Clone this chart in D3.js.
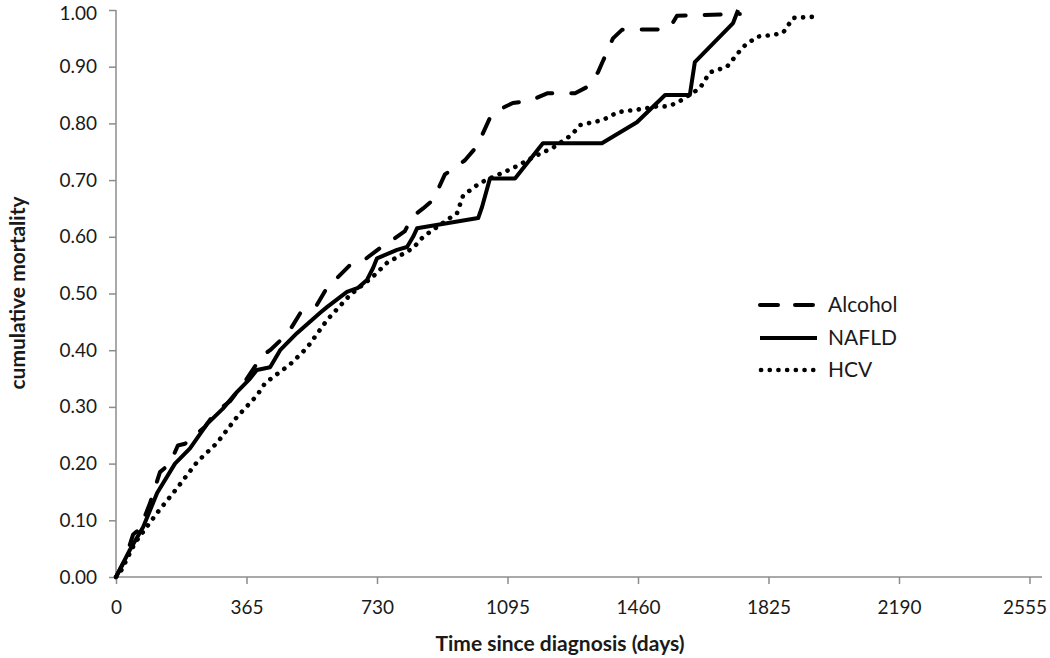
<!DOCTYPE html>
<html>
<head>
<meta charset="utf-8">
<script src="https://cdn.jsdelivr.net/npm/d3@7"></script>
<style>
  html, body { margin: 0; padding: 0; background: #fff; }
  svg text { font-family: Lato, "Open Sans", sans-serif; fill: #1a1a1a; }
</style>
</head>
<body>
<svg id="chart" width="1050" height="658"></svg>
<script>
// ---- data (days, cumulative mortality) ----
const xTicks = [0, 365, 730, 1095, 1460, 1825, 2190, 2555];
const yTicks = [0, 0.1, 0.2, 0.3, 0.4, 0.5, 0.6, 0.7, 0.8, 0.9, 1.0];
const seriesNames = ["Alcohol", "NAFLD", "HCV"];

const alcoholDays = [0, 25, 48, 67, 95, 123, 151, 173, 193, 249, 277, 319, 361, 408, 431, 481, 515, 562, 590, 618, 654, 696, 738, 772, 808, 828, 859, 887, 920, 976, 1010, 1046, 1074, 1110, 1158, 1206, 1284, 1320, 1348, 1362, 1390, 1415, 1541, 1555, 1569, 1745];
const alcoholVals = [0, 0.03, 0.075, 0.085, 0.13, 0.185, 0.20, 0.232, 0.235, 0.265, 0.29, 0.31, 0.345, 0.39, 0.40, 0.43, 0.465, 0.48, 0.51, 0.527, 0.55, 0.56, 0.58, 0.594, 0.61, 0.635, 0.65, 0.665, 0.71, 0.735, 0.76, 0.81, 0.825, 0.836, 0.84, 0.853, 0.853, 0.865, 0.89, 0.91, 0.95, 0.965, 0.966, 0.975, 0.99, 0.993];

const nafldDays = [0, 39, 76, 115, 165, 207, 255, 299, 338, 375, 394, 431, 459, 506, 571, 590, 646, 677, 702, 719, 730, 786, 814, 831, 842, 1013, 1024, 1046, 1116, 1194, 1359, 1457, 1536, 1605, 1619, 1726, 1740];
const nafldVals = [0, 0.048, 0.088, 0.148, 0.20, 0.227, 0.27, 0.297, 0.326, 0.35, 0.365, 0.37, 0.40, 0.43, 0.466, 0.476, 0.503, 0.51, 0.524, 0.545, 0.562, 0.577, 0.582, 0.60, 0.615, 0.633, 0.653, 0.703, 0.703, 0.765, 0.765, 0.802, 0.85, 0.85, 0.908, 0.977, 1.0];

const hcvDays = [0, 11, 53, 115, 171, 227, 282, 338, 394, 417, 487, 534, 590, 654, 719, 758, 831, 859, 954, 971, 1018, 1110, 1178, 1222, 1275, 1298, 1362, 1404, 1466, 1513, 1541, 1569, 1633, 1661, 1709, 1754, 1793, 1838, 1866, 1894, 1950, 1955];
const hcvVals = [0, 0.007, 0.06, 0.113, 0.157, 0.203, 0.236, 0.282, 0.32, 0.342, 0.375, 0.404, 0.453, 0.497, 0.53, 0.554, 0.58, 0.60, 0.642, 0.673, 0.695, 0.721, 0.744, 0.757, 0.78, 0.797, 0.806, 0.82, 0.825, 0.83, 0.83, 0.836, 0.862, 0.89, 0.90, 0.935, 0.953, 0.956, 0.96, 0.986, 0.988, 1.0];

const seriesDays = [alcoholDays, nafldDays, hcvDays];
const seriesVals = [alcoholVals, nafldVals, hcvVals];

// ---- styles ----
const dashes = ["16,19", null, "0.1,8.6"];
const widths = [4, 4, 4.6];

const svg = d3.select("#chart");
const x = d3.scaleLinear().domain([0, 2590]).range([116, 1042]);
const y = d3.scaleLinear().domain([0, 1]).range([577, 10]);
const axisColor = "#8c8c8c";

// y axis
const yAxis = svg.append("g").attr("transform", "translate(116,0)")
  .call(d3.axisLeft(y).tickValues(yTicks).tickFormat(d3.format(".2f")).tickSize(7).tickPadding(12));
// x axis
const xAxis = svg.append("g").attr("transform", "translate(0,577)")
  .call(d3.axisBottom(x).tickValues(xTicks).tickFormat(d3.format("d")).tickSize(7).tickPadding(17));
[yAxis, xAxis].forEach(g => {
  g.select(".domain").attr("stroke", axisColor).attr("stroke-width", 1.5);
  g.selectAll(".tick line").attr("stroke", axisColor).attr("stroke-width", 1.5);
  g.selectAll(".tick text").style("font-family", "Lato, sans-serif").style("font-size", "19px").attr("fill", "#1a1a1a");
});
yAxis.select(".domain").attr("d", "M0,10V577");
xAxis.select(".domain").attr("d", "M116,0H1042");
// keep the edge labels inside the frame
xAxis.selectAll(".tick text").filter(d => d === 2555).attr("text-anchor", "end").attr("dx", "17");
yAxis.selectAll(".tick text").filter(d => d === 1).attr("dy", "0.5em");

// lines
const line = d3.line().x(d => x(d[0])).y(d => y(d[1]));
seriesNames.forEach((name, i) => {
  const pts = seriesDays[i].map((d, j) => [d, seriesVals[i][j]]);
  svg.append("path").datum(pts)
    .attr("d", line)
    .attr("fill", "none")
    .attr("stroke", "#000")
    .attr("stroke-width", widths[i])
    .attr("stroke-linecap", i === 1 ? "butt" : "round")
    .attr("stroke-linejoin", "round")
    .attr("stroke-dasharray", dashes[i]);
});

// axis titles
svg.append("text").attr("x", 560).attr("y", 651).attr("text-anchor", "middle")
  .style("font-size", "21px").style("font-weight", "bold").text("Time since diagnosis (days)");
svg.append("text").attr("transform", "translate(25,293) rotate(-90)").attr("text-anchor", "middle")
  .style("font-size", "21px").style("font-weight", "bold").text("cumulative mortality");

// legend
const legY = [305, 338, 370];
seriesNames.forEach((name, i) => {
  svg.append("line").attr("x1", i === 2 ? 761 : 760).attr("x2", 817).attr("y1", legY[i]).attr("y2", legY[i])
    .attr("stroke", "#000").attr("stroke-width", widths[i])
    .attr("stroke-linecap", i === 1 ? "butt" : "round")
    .attr("stroke-dasharray", i === 0 ? "18,17" : dashes[i]);
  svg.append("text").attr("x", 828).attr("y", legY[i]).attr("dy", "0.35em")
    .style("font-size", "21px").text(name);
});
</script>
</body>
</html>
